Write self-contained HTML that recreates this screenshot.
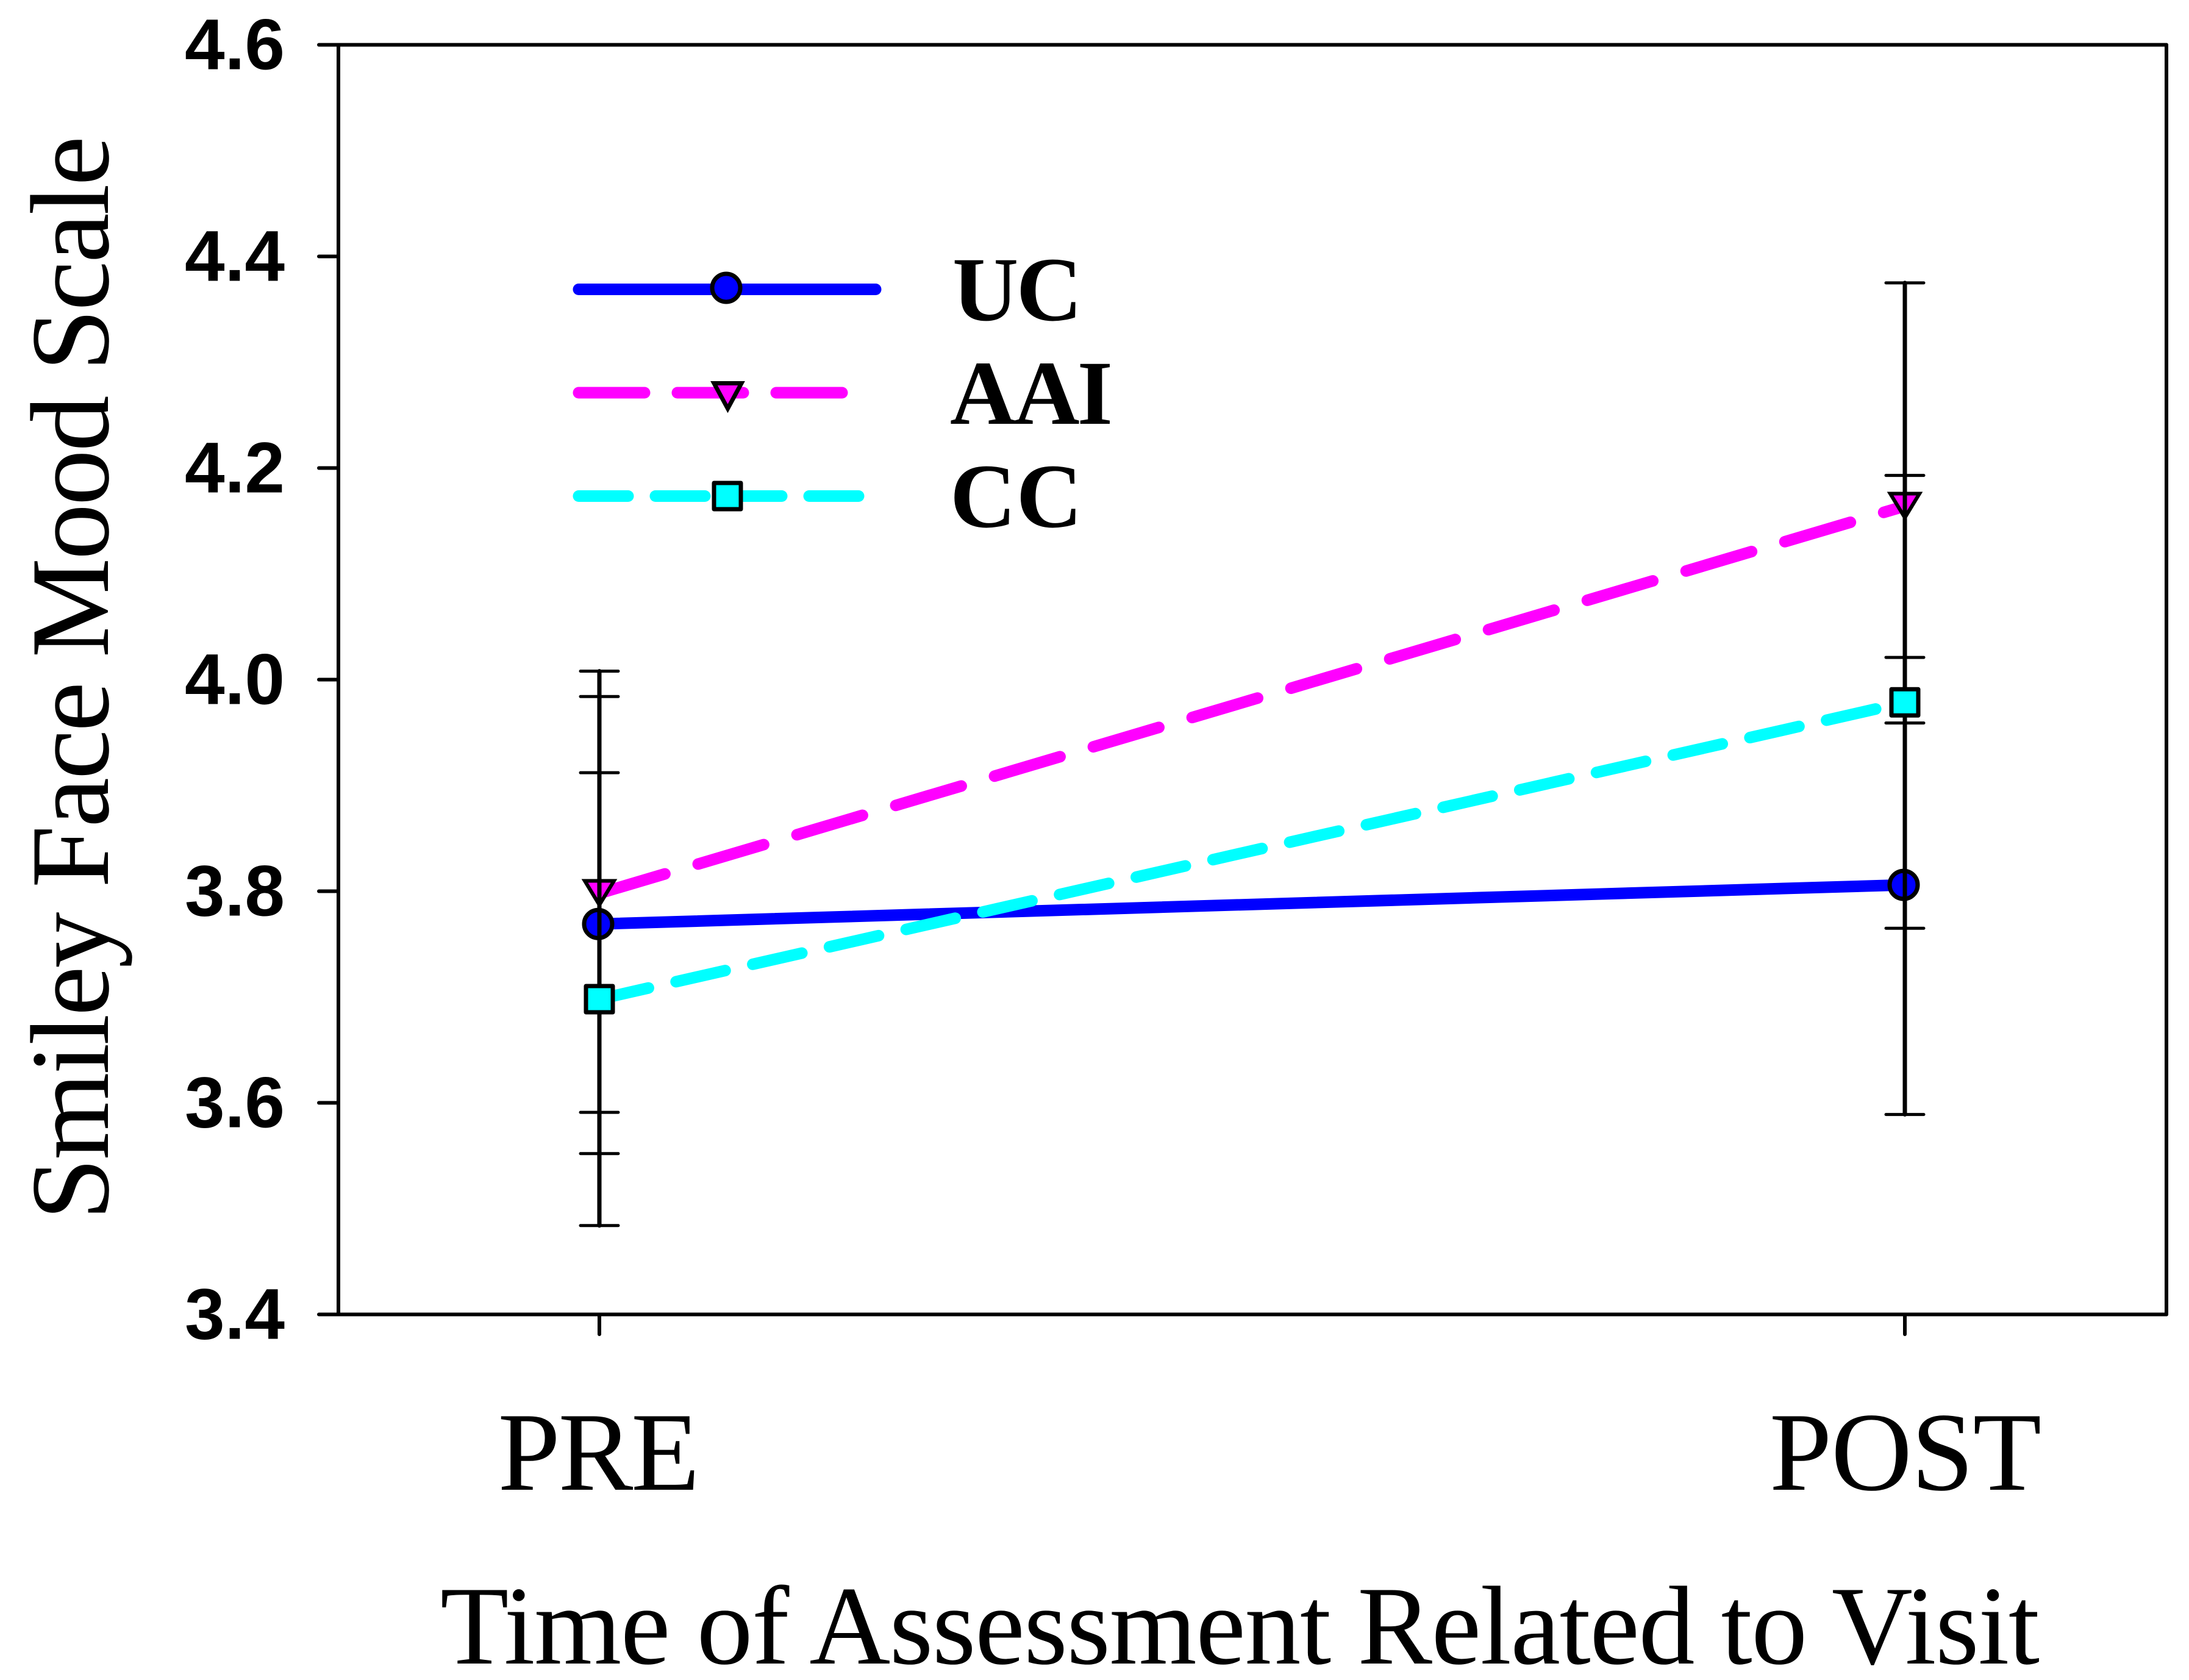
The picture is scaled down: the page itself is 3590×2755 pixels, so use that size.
<!DOCTYPE html>
<html lang="en">
<head>
<meta charset="utf-8">
<title>Smiley Face Mood Scale chart</title>
<style>
html,body{margin:0;padding:0;background:#fff;}
svg{display:block;}
.serif{font-family:"Liberation Serif",serif;}
.sans{font-family:"Liberation Sans",sans-serif;}
</style>
</head>
<body>
<svg id="chart" xmlns="http://www.w3.org/2000/svg" width="3590" height="2755" viewBox="0 0 3590 2755">
  <rect x="0" y="0" width="3590" height="2755" fill="#fff"/>
  <text class="serif" font-size="184" fill="#000" text-anchor="start" transform="translate(177 2001) rotate(-90)" textLength="1778" lengthAdjust="spacing">Smiley Face Mood Scale</text>
  <text class="serif" font-size="184" fill="#000" x="722" y="2728" textLength="2623" lengthAdjust="spacing">Time of Assessment Related to Visit</text>
  <g id="axes"></g>
  <g id="plot"></g>
  <g>
    <g>
      <line x1="949" y1="474.5" x2="1436" y2="474.5" stroke="#0000ff" stroke-width="19" stroke-linecap="round"/>
      <circle cx="1191" cy="472" r="23" fill="#0000ff" stroke="#000" stroke-width="7"/>
      <text class="serif" font-size="150" font-weight="bold" fill="#000" x="1562" y="525" textLength="213" lengthAdjust="spacing">UC</text>
    </g>
    <g>
      <line x1="949" y1="644" x2="1382" y2="644" stroke="#ff00ff" stroke-width="19" stroke-linecap="round" stroke-dasharray="108 54"/>
      <polygon points="1171,628.5 1216,628.5 1193.5,670" fill="#ff00ff" stroke="#000" stroke-width="7" stroke-linejoin="miter"/>
      <text class="serif" font-size="150" font-weight="bold" fill="#000" x="1558" y="695" textLength="267" lengthAdjust="spacing">AAI</text>
    </g>
    <g>
      <line x1="949" y1="813.5" x2="1409" y2="813.5" stroke="#00ffff" stroke-width="19" stroke-linecap="round" stroke-dasharray="81 45"/>
      <rect x="1171" y="792" width="44" height="43" fill="#00ffff" stroke="#000" stroke-width="7" stroke-linejoin="round"/>
      <text class="serif" font-size="150" font-weight="bold" fill="#000" x="1558" y="864" textLength="217" lengthAdjust="spacing">CC</text>
    </g>
  </g>
</svg>
<script>
var categories = ['PRE', 'POST'];
var yTicks = [3.4, 3.6, 3.8, 4.0, 4.2, 4.4, 4.6];
var yTickLabels = ['3.4', '3.6', '3.8', '4.0', '4.2', '4.4', '4.6'];
var ucMean = [3.769, 3.806];
var ucUpper = [3.984, 4.021];
var ucLower = [3.552, 3.589];
var aaiMean = [3.798, 4.164];
var aaiUpper = [4.008, 4.375];
var aaiLower = [3.591, 3.959];
var ccMean = [3.698, 3.9785];
var ccUpper = [3.912, 4.193];
var ccLower = [3.484, 3.765];

var NS = 'http://www.w3.org/2000/svg';
var yMin = 3.4, yMax = 4.6;
var plotTop = 73.5, plotBottom = 2155.5, plotLeft = 555, plotRight = 3553;
var xFirst = 983, xLast = 3124;

function xPos(i) { return xFirst + (xLast - xFirst) * i / (categories.length - 1); }
function yPos(v) { return plotBottom - (v - yMin) / (yMax - yMin) * (plotBottom - plotTop); }

function make(tag, parent) {
  var el = document.createElementNS(NS, tag);
  parent.appendChild(el);
  return el;
}
function setLine(el, x1, y1, x2, y2, width, color) {
  el.setAttribute('x1', x1);
  el.setAttribute('y1', y1);
  el.setAttribute('x2', x2);
  el.setAttribute('y2', y2);
  el.setAttribute('stroke', color);
  el.setAttribute('stroke-width', width);
  el.setAttribute('stroke-linecap', 'round');
}

var axes = document.getElementById('axes');
var plot = document.getElementById('plot');

var leftAxis = make('line', axes);


setLine(leftAxis, plotLeft, plotTop, plotLeft, plotBottom, 6, '#000');

var rightAxis = make('line', axes);


setLine(rightAxis, plotRight, plotTop, plotRight, plotBottom, 6, '#000');

var topAxis = make('line', axes);


setLine(topAxis, plotLeft, plotTop, plotRight, plotTop, 6, '#000');

var bottomAxis = make('line', axes);


setLine(bottomAxis, plotLeft, plotBottom, plotRight, plotBottom, 6, '#000');

yTicks.forEach(function (v, i) {
  var tick = make('line', axes);
  
  
  setLine(tick, 523, yPos(v), plotLeft, yPos(v), 6, '#000');

  var label = make('text', axes);
  
  
  label.setAttribute('class', 'sans');
  label.setAttribute('font-size', '118');
  label.setAttribute('font-weight', 'bold');
  label.setAttribute('text-anchor', 'end');
  label.setAttribute('x', 467);
  label.setAttribute('y', yPos(v) + 40);
  label.textContent = yTickLabels[i];
});

categories.forEach(function (name, i) {
  var tick = make('line', axes);
  
  
  setLine(tick, xPos(i), plotBottom, xPos(i), 2188, 6, '#000');

  var label = make('text', axes);
  
  
  label.setAttribute('class', 'serif');
  label.setAttribute('font-size', '184');
  label.setAttribute('text-anchor', 'middle');
  label.setAttribute('x', xPos(i) + (i === 0 ? -1 : 1));
  label.setAttribute('y', 2443);
  label.setAttribute('textLength', i === 0 ? 331 : 446);
  label.setAttribute('lengthAdjust', 'spacing');
  label.textContent = name;
});

function drawErrors(group, key, upper, lower) {
  categories.forEach(function (c, i) {
    var x = xPos(i);
    var stem = make('line', group);
    
    
    setLine(stem, x, yPos(upper[i]), x, yPos(lower[i]), 7, '#000');

    var capTop = make('line', group);
    
    
    setLine(capTop, x - 31, yPos(upper[i]), x + 31, yPos(upper[i]), 5, '#000');

    var capBottom = make('line', group);
    
    
    setLine(capBottom, x - 31, yPos(lower[i]), x + 31, yPos(lower[i]), 5, '#000');
  });
}

function drawLine(group, key, mean, color, dash) {
  var path = make('line', group);
  
  
  setLine(path, xPos(0), yPos(mean[0]), xPos(1), yPos(mean[1]), 19, color);
  if (dash) { path.setAttribute('stroke-dasharray', dash); }
}

function newSeries(key) {
  var g = make('g', plot);
  
  
  return g;
}

var ucGroup = newSeries('uc');
drawErrors(ucGroup, 'uc', ucUpper, ucLower);
drawLine(ucGroup, 'uc', ucMean, '#0000ff', null);
ucMean.forEach(function (v, i) {
  var m = make('circle', ucGroup);
  
  
  m.setAttribute('cx', xPos(i) - 2);
  m.setAttribute('cy', yPos(v));
  m.setAttribute('r', 23);
  m.setAttribute('fill', '#0000ff');
  m.setAttribute('stroke', '#000');
  m.setAttribute('stroke-width', 7);
  var s = make('line', ucGroup);
  
  
  setLine(s, xPos(i), yPos(v) - 26, xPos(i), yPos(v) + 26, 7, '#000');
});

var aaiGroup = newSeries('aai');
drawErrors(aaiGroup, 'aai', aaiUpper, aaiLower);
drawLine(aaiGroup, 'aai', aaiMean, '#ff00ff', '112 57');
aaiMean.forEach(function (v, i) {
  var m = make('polygon', aaiGroup);
  
  
  var x = xPos(i), y = yPos(v);
  m.setAttribute('points', (x - 24) + ',' + (y - 20.5) + ' ' + (x + 24) + ',' + (y - 20.5) + ' ' + x + ',' + (y + 19));
  m.setAttribute('fill', '#ff00ff');
  m.setAttribute('stroke', '#000');
  m.setAttribute('stroke-width', 6);
  var s = make('line', aaiGroup);
  
  
  setLine(s, x, y - 22, x, y + 24, 7, '#000');
});

var ccGroup = newSeries('cc');
drawErrors(ccGroup, 'cc', ccUpper, ccLower);
drawLine(ccGroup, 'cc', ccMean, '#00ffff', '82.5 46.5');
ccMean.forEach(function (v, i) {
  var m = make('rect', ccGroup);
  
  
  m.setAttribute('x', xPos(i) - 22);
  m.setAttribute('y', yPos(v) - 21.5);
  m.setAttribute('width', 44);
  m.setAttribute('height', 43);
  m.setAttribute('fill', '#00ffff');
  m.setAttribute('stroke', '#000');
  m.setAttribute('stroke-width', 7);
  m.setAttribute('stroke-linejoin', 'round');
});
</script>
</body>
</html>
